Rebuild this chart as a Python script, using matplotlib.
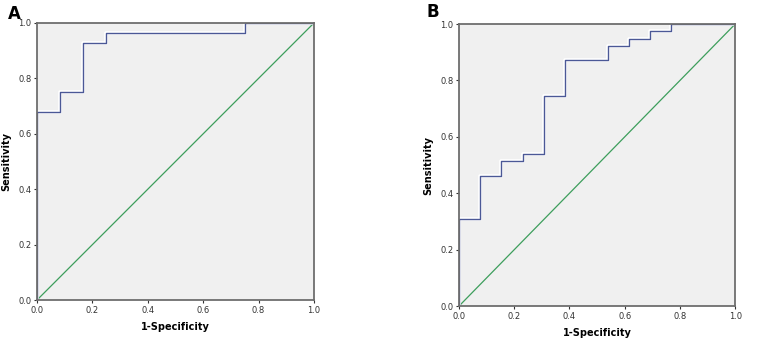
import matplotlib
matplotlib.use("Agg")
import matplotlib.pyplot as plt
import matplotlib.patheffects as pe

# panel A: 12 negatives, 28 positives
fpr_a = [0, 0, 1/12, 1/12, 2/12, 2/12, 3/12, 3/12, 9/12, 9/12, 1.0]
tpr_a = [0, 19/28, 19/28, 21/28, 21/28, 26/28, 26/28, 27/28, 27/28, 1.0, 1.0]

# panel B: 13 negatives, 39 positives
fpr_b = [0, 0, 1/13, 1/13, 2/13, 2/13, 3/13, 3/13, 4/13, 4/13, 5/13, 5/13,
         7/13, 7/13, 8/13, 8/13, 9/13, 9/13, 10/13, 10/13, 1.0]
tpr_b = [0, 12/39, 12/39, 18/39, 18/39, 20/39, 20/39, 21/39, 21/39, 29/39, 29/39, 34/39,
         34/39, 36/39, 36/39, 37/39, 37/39, 38/39, 38/39, 1.0, 1.0]

ticks = [0.0, 0.2, 0.4, 0.6, 0.8, 1.0]
tick_labels = ['0.0', '0.2', '0.4', '0.6', '0.8', '1.0']

fig = plt.figure(figsize=(7.65, 3.42), dpi=100)
ax_a = fig.add_axes([0.0484, 0.1228, 0.362, 0.810])
ax_b = fig.add_axes([0.600, 0.105, 0.361, 0.8246])

for ax, fpr, tpr, letter, lx, ly in [(ax_a, fpr_a, tpr_a, 'A', 0.010, 0.985),
                                     (ax_b, fpr_b, tpr_b, 'B', 0.557, 0.992)]:
    ax.set_facecolor('#f0f0f0')
    ax.plot([0, 1], [0, 1], color='#3d9e5c', lw=0.9, zorder=2)
    ax.plot(fpr, tpr, color='#4b5896', lw=1.0, zorder=2.3,
            path_effects=[pe.Stroke(linewidth=2.6, foreground='white'), pe.Normal()])
    ax.set_xlim(0, 1)
    ax.set_ylim(0, 1)
    ax.set_xticks(ticks)
    ax.set_xticklabels(tick_labels)
    ax.set_yticks(ticks)
    ax.set_yticklabels(tick_labels)
    ax.tick_params(labelsize=6, length=2.5, width=0.8, color='#333333',
                   labelcolor='#333333', pad=1.5)
    for s in ax.spines.values():
        s.set_color('#6e6e6e')
        s.set_linewidth(1.3)
        s.set_zorder(2.6)
    ax.set_xlabel('1-Specificity', fontsize=7, fontweight='bold', labelpad=5)
    ax.set_ylabel('Sensitivity', fontsize=7, fontweight='bold', labelpad=5)
    fig.text(lx, ly, letter, fontsize=12, fontweight='bold', va='top', ha='left')

fig.savefig('out.png', dpi=100)
